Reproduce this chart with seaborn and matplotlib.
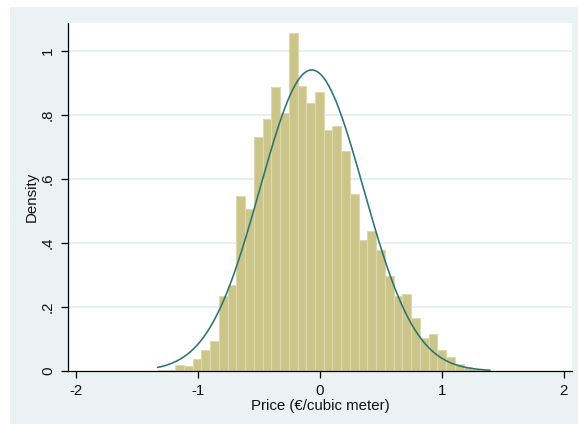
import numpy as np
import pandas as pd
import matplotlib
matplotlib.use("Agg")
import matplotlib.pyplot as plt
from matplotlib.patches import Rectangle
import seaborn as sns

# ---- data ----
bin_min = -1.331
bin_max = 1.396
bin_density = [0.004, 0.004, 0.020, 0.015, 0.039, 0.065, 0.094, 0.234, 0.270, 0.546,
               0.505, 0.731, 0.786, 0.886, 0.804, 1.056, 0.891, 0.836, 0.872, 0.752,
               0.766, 0.687, 0.552, 0.410, 0.436, 0.379, 0.296, 0.233, 0.240, 0.166,
               0.104, 0.115, 0.065, 0.044, 0.021, 0.0125, 0.006, 0.004]
normal_mean = -0.066
normal_sd = 0.4244
x_ticks = [-2, -1, 0, 1, 2]
x_tick_labels = ["-2", "-1", "0", "1", "2"]
y_ticks = [0, 0.2, 0.4, 0.6, 0.8, 1.0]
y_tick_labels = ["0", ".2", ".4", ".6", ".8", "1"]
x_label = "Price (€/cubic meter)"
y_label = "Density"

sns.set_style("white")
plt.rcParams["font.family"] = ["Liberation Sans", "DejaVu Sans"]

W, H = 578, 424
fig = plt.figure(figsize=(W / 100, H / 100), dpi=100, facecolor="white")
fig.patches.append(Rectangle((10 / W, 0), 1 - 10 / W, 1 - 7 / H, transform=fig.transFigure,
                             facecolor="#EAF2F3", edgecolor="none", zorder=-10))
ax = fig.add_axes([68.3 / W, 1 - 371 / H, (572 - 68.3) / W, (371 - 22.7) / H])
ax.set_facecolor("white")

n_bins = len(bin_density)
edges = np.linspace(bin_min, bin_max, n_bins + 1)
centers = (edges[:-1] + edges[1:]) / 2
df = pd.DataFrame({"x": centers, "w": bin_density})

sns.histplot(data=df, x="x", weights="w", bins=n_bins, binrange=(bin_min, bin_max),
             stat="count", ax=ax, color="#CCC58A", edgecolor="#DED8AE",
             linewidth=0.8, alpha=1, zorder=2)

xs = np.linspace(bin_min, bin_max, 400)
pdf = np.exp(-0.5 * ((xs - normal_mean) / normal_sd) ** 2) / (normal_sd * np.sqrt(2 * np.pi))
sns.lineplot(x=xs, y=pdf, ax=ax, color="#2A7573", linewidth=1.15, zorder=3)

ax.set_xlim(-2.063, 2.069)
ax.set_ylim(0, 1.0875)
ax.set_xticks(x_ticks)
ax.set_xticklabels(x_tick_labels)
ax.set_yticks(y_ticks)
ax.set_yticklabels(y_tick_labels, rotation=90, va="center")

for yv in y_ticks[1:]:
    ax.axhline(yv, color="#E6EEF1", linewidth=1.3, zorder=0)
ax.grid(False)

for s in ["top", "right"]:
    ax.spines[s].set_visible(False)
for s in ["left", "bottom"]:
    ax.spines[s].set_color("black")
    ax.spines[s].set_linewidth(0.9)

ax.tick_params(axis="both", which="major", length=5, width=0.9, color="black",
               labelsize=10.8, labelcolor="#111111", direction="out", pad=4.5)
ax.tick_params(axis="x", bottom=True)
ax.tick_params(axis="y", left=True)

ax.set_xlabel(x_label, fontsize=10.8, labelpad=0.5, color="#111111")
ax.set_ylabel(y_label, fontsize=10.8, labelpad=1.5, color="#111111")

fig.savefig("out.png", dpi=100, facecolor=fig.get_facecolor())
